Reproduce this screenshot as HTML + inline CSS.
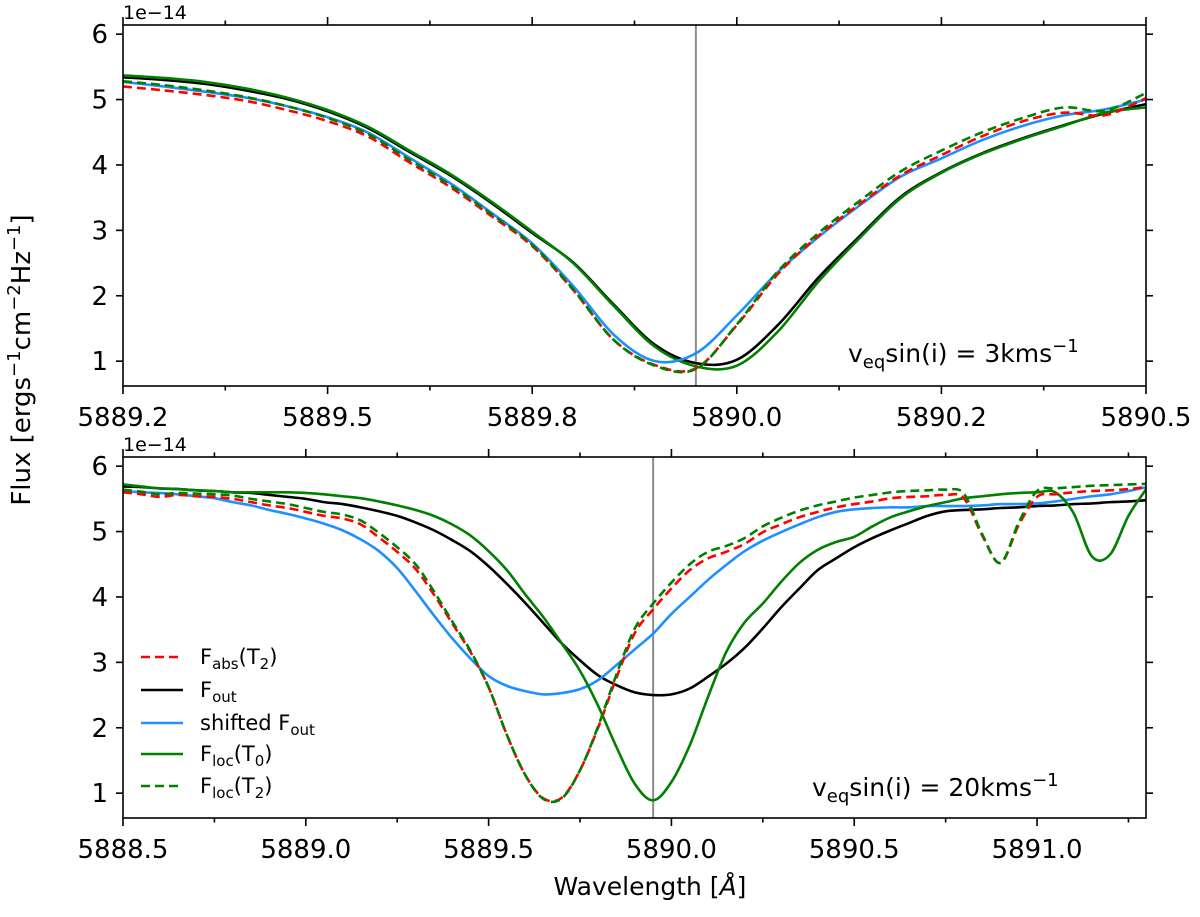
<!DOCTYPE html>
<html><head><meta charset="utf-8"><style>
html,body{margin:0;padding:0;background:#fff;}
svg{display:block;font-family:"DejaVu Sans","Liberation Sans",sans-serif;}
</style></head><body>
<svg id="chart" width="1200" height="917" viewBox="0 0 1200 917" xmlns="http://www.w3.org/2000/svg">
<defs>
<clipPath id="clipTop"><rect x="123" y="25" width="1023" height="361"/></clipPath>
<clipPath id="clipBot"><rect x="123" y="457" width="1023" height="361"/></clipPath>
</defs>
<g id="top"></g>
<g id="bot"></g>
<text x="0" y="0" transform="translate(30,360) rotate(-90)" text-anchor="middle" font-size="26">Flux [ergs<tspan dy="-10" font-size="18">−1</tspan><tspan dy="10">cm</tspan><tspan dy="-10" font-size="18">−2</tspan><tspan dy="10">Hz</tspan><tspan dy="-10" font-size="18">−1</tspan><tspan dy="10">]</tspan></text>
<text x="650" y="895" text-anchor="middle" font-size="25">Wavelength [<tspan font-style="italic">Å</tspan>]</text>
<g font-size="21">
<g><line x1="141" y1="657" x2="183" y2="657" stroke="#ff0000" stroke-width="2.5" stroke-dasharray="9,5"/><text x="200" y="664">F<tspan font-size="15" dy="5">abs</tspan><tspan dy="-5">(T</tspan><tspan font-size="15" dy="5">2</tspan><tspan dy="-5">)</tspan></text></g>
<g><line x1="141" y1="690" x2="183" y2="690" stroke="#000" stroke-width="2.5"/><text x="200" y="697">F<tspan font-size="15" dy="5">out</tspan></text></g>
<g><line x1="141" y1="723" x2="183" y2="723" stroke="#1e90ff" stroke-width="2.5"/><text x="200" y="730">shifted F<tspan font-size="15" dy="5">out</tspan></text></g>
<g><line x1="141" y1="754" x2="183" y2="754" stroke="#008000" stroke-width="2.5"/><text x="200" y="761">F<tspan font-size="15" dy="5">loc</tspan><tspan dy="-5">(T</tspan><tspan font-size="15" dy="5">0</tspan><tspan dy="-5">)</tspan></text></g>
<g><line x1="141" y1="786" x2="183" y2="786" stroke="#008000" stroke-width="2.5" stroke-dasharray="9,5"/><text x="200" y="793">F<tspan font-size="15" dy="5">loc</tspan><tspan dy="-5">(T</tspan><tspan font-size="15" dy="5">2</tspan><tspan dy="-5">)</tspan></text></g>
</g>
<text x="848" y="362" font-size="25">v<tspan font-size="18" dy="6">eq</tspan><tspan dy="-6">sin(i) = 3kms</tspan><tspan font-size="18" dy="-10">−1</tspan></text>
<text x="812" y="796" font-size="25">v<tspan font-size="18" dy="6">eq</tspan><tspan dy="-6">sin(i) = 20kms</tspan><tspan font-size="18" dy="-10">−1</tspan></text>
</svg>
<script>
// ---- top panel data (wavelength step 0.05 A from 5889.25) ----
const topWl = [5889.25,5889.30,5889.35,5889.40,5889.45,5889.50,5889.55,5889.60,5889.65,5889.70,5889.75,5889.80,5889.85,5889.90,5889.95,5890.00,5890.05,5890.10,5890.15,5890.20,5890.25,5890.30,5890.35,5890.40,5890.45,5890.50];
const topFout = [5.34,5.30,5.24,5.14,5.01,4.82,4.56,4.20,3.84,3.42,2.96,2.51,1.86,1.25,0.97,1.02,1.55,2.28,2.91,3.51,3.89,4.18,4.41,4.61,4.79,4.93];
const topFlocT0 = [5.37,5.33,5.27,5.17,5.03,4.84,4.58,4.22,3.86,3.44,2.98,2.50,1.84,1.22,0.92,0.93,1.45,2.22,2.88,3.49,3.88,4.17,4.40,4.60,4.80,4.88];
const topFabs = [5.20,5.14,5.07,4.98,4.84,4.67,4.43,4.04,3.66,3.22,2.76,2.09,1.32,0.94,0.89,1.55,2.33,2.92,3.40,3.84,4.15,4.44,4.67,4.80,4.76,5.02];
const topFlocT2 = [5.28,5.22,5.14,5.04,4.90,4.72,4.47,4.08,3.69,3.25,2.78,2.10,1.32,0.93,0.88,1.56,2.37,2.96,3.45,3.90,4.22,4.50,4.72,4.88,4.83,5.10];
const topShifted = [5.27,5.20,5.12,5.03,4.90,4.73,4.49,4.11,3.72,3.27,2.80,2.15,1.40,1.00,1.12,1.70,2.36,2.90,3.38,3.82,4.10,4.38,4.60,4.76,4.85,5.00];
const topXTicks = [5889.25,5889.5,5889.75,5890.0,5890.25,5890.5];
const topXLabels = ["5889.2","5889.5","5889.8","5890.0","5890.2","5890.5"];
// ---- bottom panel data (step 0.05 A from 5888.5) ----
const botWl = [];
for (let i = 0; i < 57; i++) botWl.push(+(5888.5 + i * 0.05).toFixed(2));
const botFout = [5.69,5.68,5.66,5.65,5.63,5.62,5.60,5.59,5.56,5.53,5.50,5.45,5.42,5.37,5.31,5.24,5.14,5.02,4.87,4.70,4.47,4.20,3.91,3.60,3.29,3.03,2.80,2.65,2.54,2.50,2.51,2.60,2.78,2.98,3.22,3.52,3.84,4.13,4.41,4.59,4.76,4.90,5.02,5.13,5.24,5.31,5.33,5.34,5.36,5.37,5.39,5.40,5.42,5.43,5.45,5.46,5.48];
const botShifted = [5.62,5.60,5.59,5.57,5.54,5.51,5.45,5.40,5.33,5.27,5.20,5.12,5.02,4.88,4.70,4.44,4.09,3.72,3.37,3.06,2.79,2.64,2.56,2.51,2.53,2.59,2.73,2.96,3.20,3.44,3.74,4.00,4.26,4.49,4.70,4.86,4.99,5.11,5.22,5.30,5.34,5.36,5.37,5.37,5.39,5.39,5.39,5.40,5.42,5.42,5.43,5.46,5.50,5.54,5.57,5.62,5.68];
const botFabs = [5.60,5.57,5.53,5.56,5.54,5.53,5.50,5.45,5.40,5.36,5.30,5.24,5.20,5.11,4.91,4.69,4.43,4.04,3.60,3.16,2.62,1.89,1.28,0.92,0.93,1.35,2.01,2.77,3.45,3.81,4.13,4.41,4.59,4.69,4.81,4.99,5.11,5.22,5.30,5.37,5.42,5.46,5.51,5.53,5.54,5.56,5.51,4.94,4.52,5.10,5.53,5.57,5.60,5.62,5.63,5.65,5.68];
const botFlocT2 = [5.64,5.61,5.57,5.59,5.58,5.57,5.55,5.50,5.46,5.42,5.36,5.30,5.26,5.17,4.98,4.76,4.50,4.09,3.63,3.18,2.62,1.89,1.28,0.91,0.92,1.35,2.03,2.82,3.52,3.90,4.22,4.50,4.69,4.78,4.90,5.08,5.21,5.32,5.40,5.46,5.52,5.56,5.60,5.62,5.63,5.64,5.58,4.96,4.52,5.14,5.62,5.66,5.68,5.70,5.71,5.72,5.73];
const botFlocT0 = [5.72,5.69,5.66,5.65,5.63,5.62,5.60,5.60,5.60,5.60,5.59,5.57,5.54,5.51,5.46,5.40,5.33,5.24,5.11,4.94,4.70,4.41,4.04,3.69,3.29,2.87,2.33,1.70,1.14,0.89,1.17,1.73,2.47,3.16,3.61,3.90,4.23,4.52,4.72,4.84,4.92,5.08,5.22,5.31,5.39,5.45,5.51,5.54,5.57,5.59,5.60,5.60,5.28,4.62,4.65,5.24,5.66];
const botXTicks = [5888.5,5889.0,5889.5,5890.0,5890.5,5891.0];
const botXLabels = ["5888.5","5889.0","5889.5","5890.0","5890.5","5891.0"];
const yTicks = [1,2,3,4,5,6];
const restWl = 5889.95;

const NS = "http://www.w3.org/2000/svg";
function mk(tag, attrs, parent) {
  const e = document.createElementNS(NS, tag);
  for (const k in attrs) e.setAttribute(k, attrs[k]);
  parent.appendChild(e);
  return e;
}
function smoothPath(pts) {
  let d = "M" + pts[0][0].toFixed(2) + "," + pts[0][1].toFixed(2);
  for (let i = 0; i < pts.length - 1; i++) {
    const p0 = pts[Math.max(i - 1, 0)], p1 = pts[i], p2 = pts[i + 1], p3 = pts[Math.min(i + 2, pts.length - 1)];
    const c1x = p1[0] + (p2[0] - p0[0]) / 6, c1y = p1[1] + (p2[1] - p0[1]) / 6;
    const c2x = p2[0] - (p3[0] - p1[0]) / 6, c2y = p2[1] - (p3[1] - p1[1]) / 6;
    d += "C" + c1x.toFixed(2) + "," + c1y.toFixed(2) + " " + c2x.toFixed(2) + "," + c2y.toFixed(2) + " " + p2[0].toFixed(2) + "," + p2[1].toFixed(2);
  }
  return d;
}
function panel(g, cfg) {
  const L = 123, R = 1146, T = cfg.top, B = cfg.top + 361;
  const xs = w => L + (w - cfg.x0) / (cfg.x1 - cfg.x0) * (R - L);
  const ys = v => T + (cfg.y1 - v) / (cfg.y1 - cfg.y0) * (B - T);
  const series = mk("g", {"clip-path": "url(#" + cfg.clip + ")"}, g);
  
  
  const vl = mk("line", {x1: xs(restWl), x2: xs(restWl), y1: T, y2: B, stroke: "#8c8c8c", "stroke-width": 2}, series);
  
  
  for (const s of cfg.series) {
    const pts = s.vals.map((v, i) => [xs(cfg.wl[i]), ys(v)]);
    const p = mk("path", {d: smoothPath(pts), fill: "none", stroke: s.color, "stroke-width": 2.6, "stroke-dasharray": s.dash ? "9,5" : "none"}, series);
    
    
  }
  const ax = mk("g", {stroke: "#000", "stroke-width": 1.6}, g);
  
  
  mk("rect", {x: L, y: T, width: R - L, height: B - T, fill: "none"}, ax);
  for (const v of yTicks) {
    const y = ys(v);
    mk("line", {x1: L - 7, x2: L, y1: y, y2: y}, ax);
    mk("line", {x1: R, x2: R + 7, y1: y, y2: y}, ax);
    const t = mk("text", {x: L - 15, y: y + 9, "text-anchor": "end", "font-size": 26, stroke: "none", fill: "#000"}, g);
    t.textContent = v;
    
    
  }
  const step = cfg.xTicks[1] - cfg.xTicks[0];
  for (let i = 0; i < cfg.xTicks.length; i++) {
    const x = xs(cfg.xTicks[i]);
    mk("line", {x1: x, x2: x, y1: B, y2: B + 8}, ax);
    mk("line", {x1: x, x2: x, y1: T - 8, y2: T}, ax);
    if (i < cfg.xTicks.length - 1) {
      const xm = xs(cfg.xTicks[i] + step / 2);
      mk("line", {x1: xm, x2: xm, y1: B, y2: B + 4.5}, ax);
      mk("line", {x1: xm, x2: xm, y1: T - 4.5, y2: T}, ax);
    }
    const t = mk("text", {x: x, y: B + 40, "text-anchor": "middle", "font-size": 26, fill: "#000"}, g);
    t.textContent = cfg.xLabels[i];
    
    
  }
  if (cfg.xTicks[cfg.xTicks.length - 1] + step / 2 < cfg.x1) {
    const xm = xs(cfg.xTicks[cfg.xTicks.length - 1] + step / 2);
    mk("line", {x1: xm, x2: xm, y1: B, y2: B + 4.5}, ax);
    mk("line", {x1: xm, x2: xm, y1: T - 4.5, y2: T}, ax);
  }
  const off = mk("text", {x: L, y: T - 6, "font-size": 19, fill: "#000"}, g);
  off.textContent = "1e\u221214";
  
  
}
panel(document.getElementById("top"), {
  top: 25, x0: 5889.25, x1: 5890.5, y0: 0.62, y1: 6.14, clip: "clipTop", prefix: "top",
  wl: topWl, xTicks: topXTicks, xLabels: topXLabels,
  series: [
    {name: "fout-line", vals: topFout, color: "#000000"},
    {name: "floc-t0-line", vals: topFlocT0, color: "#008000"},
    {name: "shifted-fout-line", vals: topShifted, color: "#1e90ff"},
    {name: "fabs-t2-line", vals: topFabs, color: "#ff0000", dash: true},
    {name: "floc-t2-line", vals: topFlocT2, color: "#008000", dash: true}
  ]
});
panel(document.getElementById("bot"), {
  top: 457, x0: 5888.5, x1: 5891.298, y0: 0.62, y1: 6.14, clip: "clipBot", prefix: "bottom",
  wl: botWl, xTicks: botXTicks, xLabels: botXLabels,
  series: [
    {name: "fout-line", vals: botFout, color: "#000000"},
    {name: "shifted-fout-line", vals: botShifted, color: "#1e90ff"},
    {name: "floc-t0-line", vals: botFlocT0, color: "#008000"},
    {name: "fabs-t2-line", vals: botFabs, color: "#ff0000", dash: true},
    {name: "floc-t2-line", vals: botFlocT2, color: "#008000", dash: true}
  ]
});
</script>
</body></html>
